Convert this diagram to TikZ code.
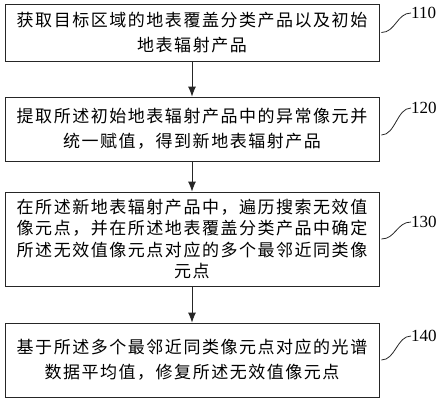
\documentclass[tikz,border=0pt]{standalone}
\usepackage{fontspec}
\newfontfamily\cjk{Noto Sans CJK SC}[LetterSpace=9]
\newfontfamily\numfont{Liberation Serif}
\usetikzlibrary{arrows.meta}
\tikzset{
	stepbox/.style={draw=black!85,line width=0.8pt,minimum width=374pt,align=center,inner sep=0pt,font=\fontsize{17}{25}\selectfont\cjk},
	flow/.style={draw=black!85,line width=0.8pt,-{Latex[length=10pt,width=8pt]}},
	lead/.style={draw=black!85,line width=0.8pt},
	steplabel/.style={anchor=west,inner sep=0pt,font=\fontsize{17}{17}\selectfont\numfont}
}
\begin{document}
\begin{tikzpicture}[x=1pt,y=-1pt]
			\useasboundingbox (0,0) rectangle (444,404);
			\node[stepbox,minimum height=57pt] (b1) at (192,32.5) {获取目标区域的地表覆盖分类产品以及初始\\地表辐射产品};
			\node[stepbox,minimum height=64pt] (b2) at (192,129) {提取所述初始地表辐射产品中的异常像元并\\统一赋值，得到新地表辐射产品};
			\node[stepbox,minimum height=94pt,font=\fontsize{17}{21.5}\selectfont\cjk] (b3) at (192,239) {在所述新地表辐射产品中，遍历搜索无效值\\像元点，并在所述地表覆盖分类产品中确定\\所述无效值像元点对应的多个最邻近同类像\\元点};
			\node[stepbox,minimum height=74pt] (b4) at (192,360) {基于所述多个最邻近同类像元点对应的光谱\\数据平均值，修复所述无效值像元点};
			\draw[flow] (b1) -- (b2);
			\draw[flow] (b2) -- (b3);
			\draw[flow] (b3) -- (b4);
			% step numbers
			\node[steplabel] (l1) at (411,13) {110};
			\node[steplabel] (l2) at (411,108) {120};
			\node[steplabel] (l3) at (411,222) {130};
			\node[steplabel] (l4) at (411,336) {140};
			\draw[lead] ([xshift=2pt]b1.east) .. controls +(14,0) and +(-14,0) .. (l1.west);
			\draw[lead] ([xshift=2pt,yshift=-6pt]b2.east) .. controls +(14,0) and +(-14,0) .. (l2.west);
			\draw[lead] ([xshift=2pt]b3.east) .. controls +(14,0) and +(-14,0) .. (l3.west);
			\draw[lead] ([xshift=2pt]b4.east) .. controls +(14,0) and +(-14,0) .. (l4.west);
		\end{tikzpicture}
\end{document}
